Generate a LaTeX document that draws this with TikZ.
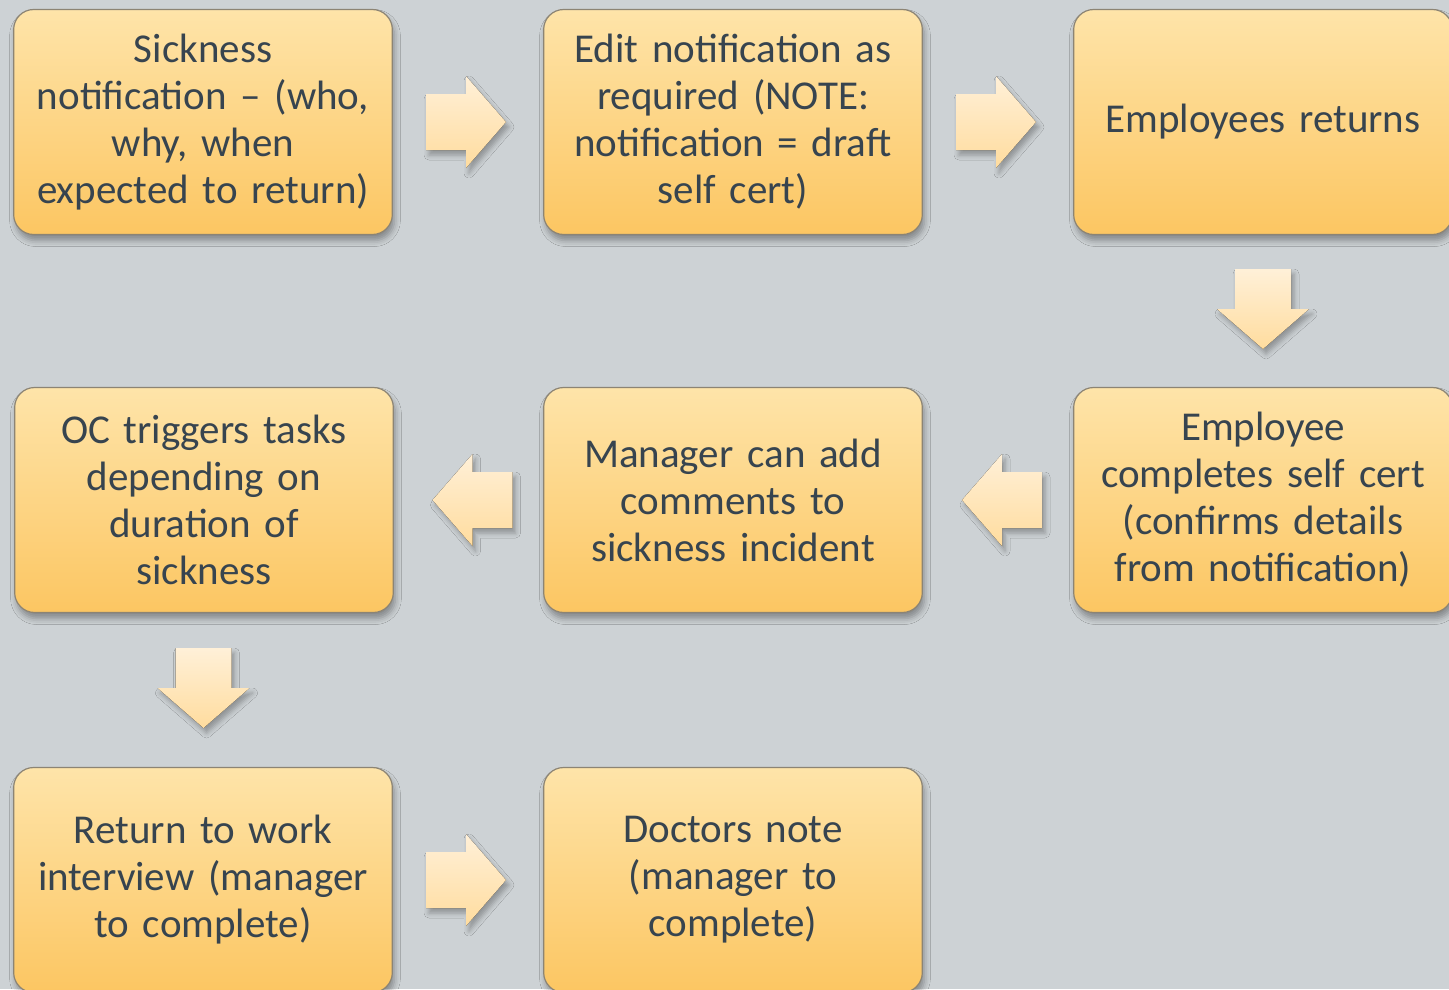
\documentclass[tikz,border=0pt]{standalone}
\usepackage{fontspec}
\setmainfont{Carlito}
\usetikzlibrary{calc,shadows.blur}

\definecolor{bgGrey}{HTML}{CDD2D5}
\definecolor{boxTop}{HTML}{FEE4A9}
\definecolor{boxBot}{HTML}{FCC662}
\definecolor{boxLine}{HTML}{8C8474}
\definecolor{txtSlate}{HTML}{37444F}
\definecolor{arrTop}{HTML}{FFF0D8}
\definecolor{arrBot}{HTML}{FFDC9E}

\begin{document}
\begin{tikzpicture}[x=1pt,y=1pt,
  task/.style={draw=boxLine, line width=1.2pt, rounded corners=20pt,
    top color=boxTop, bottom color=boxBot,
    minimum width=378pt, minimum height=225pt, text width=372pt, align=center,
    text=txtSlate, font=\fontsize{41}{47}\selectfont,
    blur shadow={shadow xshift=2pt, shadow yshift=-6pt, shadow blur radius=6pt, shadow opacity=35}},
  arrowfill/.style={top color=arrTop, bottom color=arrBot,
    blur shadow={shadow xshift=3pt, shadow yshift=-5pt, shadow blur radius=5pt, shadow opacity=30}},
  toright/.style={x={(1pt,0pt)}, y={(0pt,1pt)}},
  toleft/.style={x={(-1pt,0pt)}, y={(0pt,1pt)}},
  todown/.style={x={(0pt,-1pt)}, y={(1pt,0pt)}},
  pics/flowarr/.style={code={
    \fill[arrowfill]
      (-40,-28) -- (0,-28) -- (0,-46) -- (40,0) -- (0,46) -- (0,28) -- (-40,28) -- cycle;
  }}]

% ----- page and background -----
\useasboundingbox (0,0) rectangle (1449,-989);
\clip (0,0) rectangle (1449,-989);
\fill[bgGrey] (0,0) rectangle (1449,-989);

% ----- row 1 -----
\node[task] (notify) at (203,-122) {Sickness\\notification -- (who,\\why, when\\expected to return)};
\node[task] (edit)   at (733,-122) {Edit notification as\\required (NOTE:\\notification = draft\\self cert)};
\node[task] (back)   at (1263,-122) {Employees returns};

% ----- row 2 -----
\node[task] (selfcert) at (1263,-500) {Employee\\completes self cert\\(confirms details\\from notification)};
\node[task] (comment)  at (733,-500)  {Manager can add\\comments to\\sickness incident};
\node[task] (tasks)    at (204,-500)  {OC triggers tasks\\depending on\\duration of\\sickness};

% ----- row 3 -----
\node[task] (rtw)    at (203,-880) {Return to work\\interview (manager\\to complete)};
\node[task] (doctor) at (733,-880) {Doctors note\\(manager to\\complete)};

% ----- block arrows between the boxes -----
\pic[toright] at ($(notify.east)!0.5!(edit.west)+(-2pt,0pt)$) {flowarr};
\pic[toright] at ($(edit.east)!0.5!(back.west)+(-2pt,0pt)$) {flowarr};
\pic[todown]  at ($(back.south)!0.5!(selfcert.north)+(0pt,2pt)$) {flowarr};
\pic[toleft]  at ($(selfcert.west)!0.5!(comment.east)+(4pt,0pt)$) {flowarr};
\pic[toleft]  at ($(comment.west)!0.5!(tasks.east)+(4pt,0pt)$) {flowarr};
\pic[todown]  at ($(tasks.south)!0.5!(rtw.north)+(0pt,2pt)$) {flowarr};
\pic[toright] at ($(rtw.east)!0.5!(doctor.west)+(-2pt,0pt)$) {flowarr};

\end{tikzpicture}
\end{document}
